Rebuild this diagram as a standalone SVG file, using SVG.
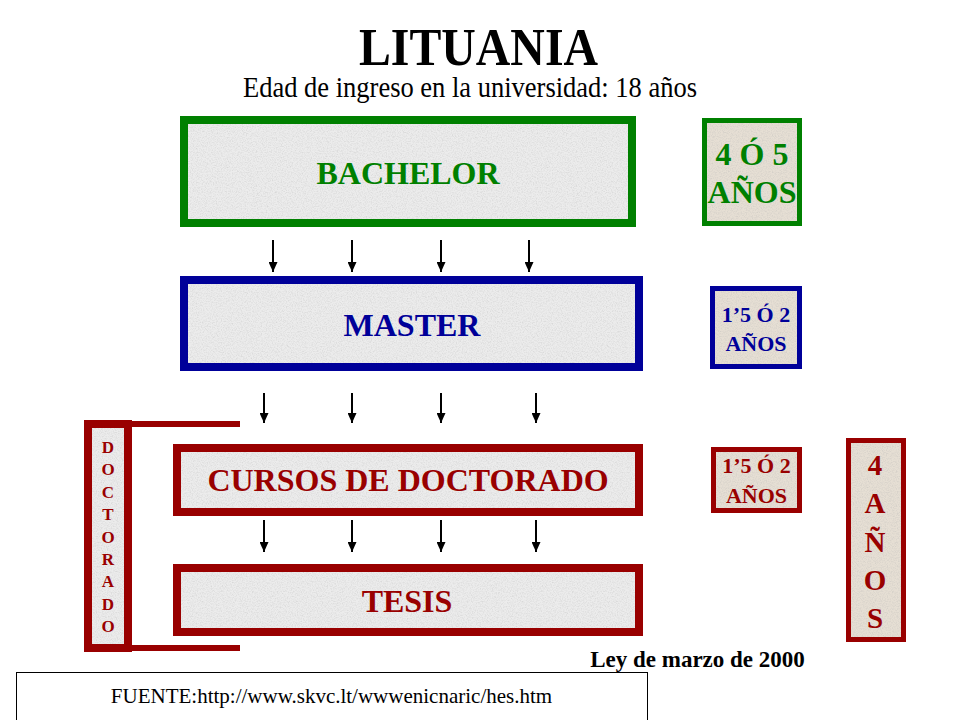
<svg xmlns="http://www.w3.org/2000/svg" width="960" height="720" viewBox="0 0 960 720">
  <style>
    text { font-family: "Liberation Serif", "Times New Roman", serif; text-anchor: middle; }
    .b { font-weight: bold; }
    .grayfill { fill: #ECECEC; }
    .beige { fill: #E6DFD4; }
    .g { fill: #008000; }
    .bl { fill: #000099; }
    .r { fill: #990000; }
    .sg { fill: none; stroke: #008000; }
    .sb { fill: none; stroke: #000099; }
    .sr { fill: none; stroke: #990000; }
    .arrow { stroke: #000000; stroke-width: 2; marker-end: url(#ah); }
  </style>
  <defs>
    <marker id="ah" markerUnits="userSpaceOnUse" markerWidth="10" markerHeight="9" viewBox="0 0 10 9" refX="10" refY="4.5" orient="auto">
      <path d="M0,0 L10,4.5 L0,9 z" fill="#000000"/>
    </marker>
    <filter id="granite" x="0" y="0" width="100%" height="100%">
      <feTurbulence type="fractalNoise" baseFrequency="0.8" numOctaves="3" seed="7" result="n"/>
      <feColorMatrix in="n" type="matrix" values="0 0 0 0 0.45  0 0 0 0 0.45  0 0 0 0 0.45  0.8 0 0 0 -0.32" result="dots"/>
      <feComposite in="dots" in2="SourceGraphic" operator="in" result="d2"/>
      <feMerge><feMergeNode in="SourceGraphic"/><feMergeNode in="d2"/></feMerge>
    </filter>
  </defs>

  <rect x="0" y="0" width="960" height="720" fill="#FFFFFF"/>

  <g id="title">
    <text x="478.5" y="65" class="b" font-size="52" textLength="239" lengthAdjust="spacingAndGlyphs">LITUANIA</text>
    <text x="470" y="97" font-size="29" textLength="454" lengthAdjust="spacingAndGlyphs">Edad de ingreso en la universidad: 18 años</text>
  </g>

  <g id="bachelor">
    <rect x="184" y="120" width="448" height="103" class="grayfill" filter="url(#granite)"/>
    <rect x="184" y="120" width="448" height="103" class="sg" stroke-width="8"/>
    <text x="408" y="184" class="b g" font-size="32">BACHELOR</text>
  </g>

  <g id="master">
    <rect x="184" y="280" width="455" height="87" class="grayfill" filter="url(#granite)"/>
    <rect x="184" y="280" width="455" height="87" class="sb" stroke-width="8"/>
    <text x="412" y="336" class="b bl" font-size="32">MASTER</text>
  </g>

  <g id="cursos">
    <rect x="177" y="448" width="462" height="64" class="grayfill" filter="url(#granite)"/>
    <rect x="177" y="448" width="462" height="64" class="sr" stroke-width="8"/>
    <text x="408" y="491" class="b r" font-size="32">CURSOS DE DOCTORADO</text>
  </g>

  <g id="tesis">
    <rect x="177" y="568" width="462" height="64" class="grayfill" filter="url(#granite)"/>
    <rect x="177" y="568" width="462" height="64" class="sr" stroke-width="8"/>
    <text x="407" y="612" class="b r" font-size="32">TESIS</text>
  </g>

  <g id="doctorado">
    <rect x="130" y="421" width="110" height="6" fill="#990000"/>
    <rect x="130" y="645" width="110" height="6" fill="#990000"/>
    <rect x="88" y="424" width="40" height="224" class="grayfill" filter="url(#granite)"/>
    <rect x="88" y="424" width="40" height="224" class="sr" stroke-width="8"/>
    <g class="b r" font-size="17">
      <text x="108" y="453">D</text>
      <text x="108" y="475.4">O</text>
      <text x="108" y="497.8">C</text>
      <text x="108" y="520.2">T</text>
      <text x="108" y="542.6">O</text>
      <text x="108" y="565">R</text>
      <text x="108" y="587.4">A</text>
      <text x="108" y="609.8">D</text>
      <text x="108" y="632.2">O</text>
    </g>
  </g>

  <g id="dur-bachelor">
    <rect x="704.5" y="120.5" width="95" height="103" class="beige" filter="url(#granite)"/>
    <rect x="704.5" y="120.5" width="95" height="103" class="sg" stroke-width="5"/>
    <text x="752" y="165" class="b g" font-size="32">4 Ó 5</text>
    <text x="752" y="203" class="b g" font-size="32">AÑOS</text>
  </g>

  <g id="dur-master">
    <rect x="712.5" y="288.5" width="87" height="78" class="beige" filter="url(#granite)"/>
    <rect x="712.5" y="288.5" width="87" height="78" class="sb" stroke-width="5"/>
    <text x="756" y="322" class="b bl" font-size="22">1’5 Ó 2</text>
    <text x="756" y="351" class="b bl" font-size="22">AÑOS</text>
  </g>

  <g id="dur-cursos">
    <rect x="713.5" y="449.5" width="86" height="61" class="beige" filter="url(#granite)"/>
    <rect x="713.5" y="449.5" width="86" height="61" class="sr" stroke-width="5"/>
    <text x="756.5" y="473" class="b r" font-size="22">1’5 Ó 2</text>
    <text x="756.5" y="503" class="b r" font-size="22">AÑOS</text>
  </g>

  <g id="dur-doctorado">
    <rect x="848.5" y="440.5" width="55" height="199" class="beige" filter="url(#granite)"/>
    <rect x="848.5" y="440.5" width="55" height="199" class="sr" stroke-width="5"/>
    <g class="b r" font-size="29">
      <text x="875" y="475">4</text>
      <text x="875" y="513">A</text>
      <text x="875" y="552">Ñ</text>
      <text x="875" y="590">O</text>
      <text x="875" y="628">S</text>
    </g>
  </g>

  <g id="connectors">
    <line x1="273" y1="240" x2="273" y2="272" class="arrow"/>
    <line x1="352" y1="240" x2="352" y2="272" class="arrow"/>
    <line x1="441" y1="240" x2="441" y2="272" class="arrow"/>
    <line x1="529" y1="240" x2="529" y2="272" class="arrow"/>

    <line x1="264" y1="393" x2="264" y2="423" class="arrow"/>
    <line x1="352" y1="393" x2="352" y2="423" class="arrow"/>
    <line x1="441" y1="393" x2="441" y2="423" class="arrow"/>
    <line x1="536" y1="393" x2="536" y2="423" class="arrow"/>

    <line x1="264" y1="520" x2="264" y2="552" class="arrow"/>
    <line x1="352" y1="520" x2="352" y2="552" class="arrow"/>
    <line x1="441" y1="520" x2="441" y2="552" class="arrow"/>
    <line x1="536" y1="520" x2="536" y2="552" class="arrow"/>
  </g>

  <g id="ley">
    <text x="697.5" y="667" class="b" font-size="23">Ley de marzo de 2000</text>
  </g>

  <g id="fuente">
    <rect x="16.5" y="672.5" width="631" height="60" fill="#FFFFFF" stroke="#000000" stroke-width="1"/>
    <text x="331.5" y="703" font-size="21">FUENTE:http://www.skvc.lt/wwwenicnaric/hes.htm</text>
  </g>
</svg>
